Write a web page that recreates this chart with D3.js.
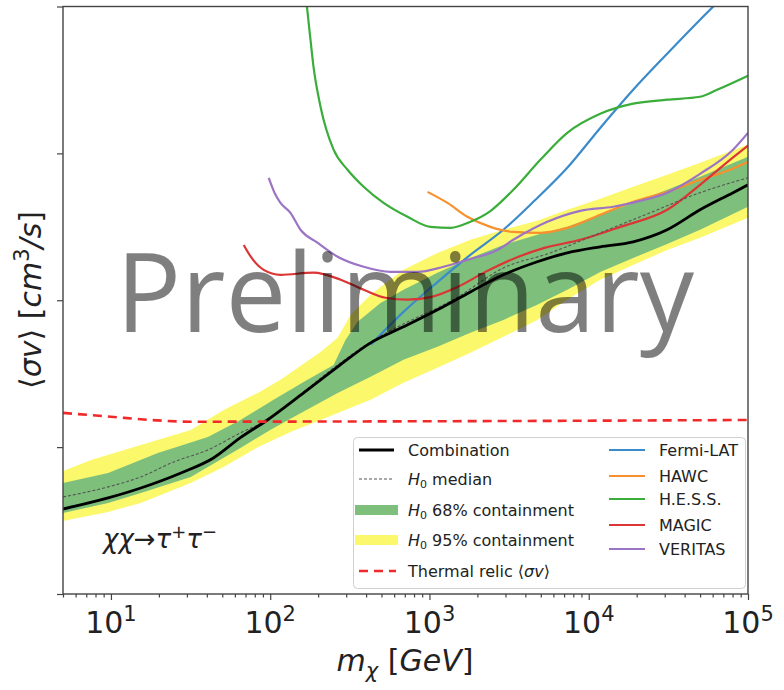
<!DOCTYPE html>
<html><head><meta charset="utf-8">
<script src="https://cdn.jsdelivr.net/npm/d3@7"></script>
<style>body{margin:0;background:#fff} svg{display:block}</style>
</head><body>
<svg id="c" width="784" height="690"></svg>
<script>
// ---- data: [mass GeV, <sigma v> cm^3/s] ----
const combination = [[5,3.79e-27],[9.6,4.51e-27],[15.4,5.27e-27],[27.5,6.67e-27],[44,8.44e-27],[65,1.16e-26],[96,1.53e-26],[162,2.34e-26],[265,3.52e-26],[427,5.13e-26],[687,6.59e-26],[1122,8.61e-26],[1807,1.14e-25],[2910,1.49e-25],[4754,1.83e-25],[7331,2.10e-25],[11810,2.31e-25],[19010,2.50e-25],[31070,3.02e-25],[50020,4.13e-25],[80530,5.40e-25],[1e5,6.11e-25]];
const h0Median = [[5,4.58e-27],[9.6,5.36e-27],[15.4,6.27e-27],[24.8,7.93e-27],[40.6,9.57e-27],[65,1.25e-26],[96,1.53e-26],[162,2.38e-26],[265,3.63e-26],[427,5.21e-26],[687,6.90e-26],[1122,8.87e-26],[1498,1.05e-25],[2910,1.66e-25],[5737,2.10e-25],[11810,2.88e-25],[24300,3.94e-25],[50020,5.40e-25],[1e5,6.82e-25]];
const band68Upper = [[5,5.70e-27],[9.6,6.67e-27],[19.7,9.12e-27],[40.6,1.17e-26],[65,1.53e-26],[105,2.10e-26],[162,2.78e-26],[250,3.63e-26],[297,5.37e-26],[354,7.13e-26],[493,9.59e-26],[687,1.18e-25],[1122,1.54e-25],[1807,1.94e-25],[2910,2.38e-25],[4754,2.79e-25],[7331,3.16e-25],[11810,3.82e-25],[19010,4.60e-25],[31070,5.65e-25],[50020,6.93e-25],[1e5,9.48e-25]];
const band68Lower = [[5,3.56e-27],[9.6,4.17e-27],[15.4,4.88e-27],[31.7,6.27e-27],[65,9.88e-27],[100,1.31e-26],[134,1.56e-26],[265,2.34e-26],[427,3.01e-26],[687,3.93e-26],[1122,4.82e-26],[1807,6.00e-26],[2910,7.35e-26],[4754,9.31e-26],[7331,1.18e-25],[11810,1.56e-25],[19010,1.94e-25],[31070,2.42e-25],[50020,3.02e-25],[1e5,4.33e-25]];
const band95Upper = [[5,6.88e-27],[7.5,8.18e-27],[15.4,1.035e-26],[31.7,1.31e-26],[51,1.79e-26],[83.5,2.34e-26],[116,2.87e-26],[207,4.45e-26],[265,5.55e-26],[320,7.96e-26],[427,1.09e-25],[687,1.61e-25],[1122,2.10e-25],[1807,2.58e-25],[2910,3.02e-25],[4754,3.48e-25],[7331,4.13e-25],[11810,4.91e-25],[19010,5.92e-25],[31070,7.15e-25],[50020,8.63e-25],[1e5,1.15e-24]];
const band95Lower = [[5,3.14e-27],[9.6,3.62e-27],[15.4,4.17e-27],[31.7,5.70e-27],[51,7.33e-27],[83.5,1.00e-26],[134,1.27e-26],[207,1.53e-26],[427,2.10e-26],[687,2.74e-26],[1122,3.47e-26],[1807,4.39e-26],[2910,5.64e-26],[4754,7.35e-26],[7331,1.01e-25],[11810,1.38e-25],[19010,1.74e-25],[31070,2.20e-25],[50020,2.66e-25],[1e5,3.64e-25]];
const thermalRelic = [[5,1.71e-26],[10,1.61e-26],[17.8,1.53e-26],[31.7,1.49e-26],[1015,1.50e-26],[1e5,1.53e-26]];
const fermiLAT = [[427,4.97e-26],[687,8.34e-26],[1122,1.33e-25],[1807,2.04e-25],[2910,3.02e-25],[4487,4.68e-25],[7331,7.98e-25],[11810,1.49e-24],[19010,2.71e-24],[31070,4.77e-24],[50020,8.13e-24],[71760,1.2e-23]];
const hawc = [[972,5.47e-25],[1297,4.60e-25],[1730,3.70e-25],[2412,3.16e-25],[3362,2.92e-25],[4965,2.88e-25],[7331,3.11e-25],[11810,3.82e-25],[19010,4.68e-25],[31070,5.47e-25],[50020,6.61e-25],[77120,7.73e-25],[1e5,8.77e-25]];
const hess = [[167,1.2e-23],[179,5.94e-24],[187,3.89e-24],[207,2.08e-24],[250,1.06e-24],[306,7.73e-25],[386,5.92e-25],[515,4.60e-25],[728,3.70e-25],[1015,3.16e-25],[1354,3.11e-25],[1807,3.42e-25],[2412,4.05e-25],[3362,5.65e-25],[4965,9.04e-25],[7331,1.38e-24],[11810,1.86e-24],[19010,2.18e-24],[31070,2.32e-24],[50020,2.43e-24],[63920,2.71e-24],[1e5,3.38e-24]];
const magic = [[68.2,2.38e-25],[75.5,1.98e-25],[91,1.61e-25],[116,1.49e-25],[187,1.54e-25],[277,1.38e-25],[386,1.18e-25],[530,1.04e-25],[728,1.01e-25],[1015,1.05e-25],[1498,1.23e-25],[2244,1.56e-25],[3461,1.94e-25],[5338,2.28e-25],[8846,2.58e-25],[15760,3.16e-25],[31070,4.13e-25],[50020,6.11e-25],[77120,9.04e-25],[1e5,1.13e-24]];
const veritas = [[97.9,6.82e-25],[108,5.22e-25],[116,4.60e-25],[134,3.94e-25],[155,3.02e-25],[199,2.46e-25],[265,1.98e-25],[386,1.69e-25],[569,1.56e-25],[841,1.56e-25],[1224,1.69e-25],[1807,1.91e-25],[2669,2.20e-25],[3362,2.58e-25],[5494,3.42e-25],[8846,4.06e-25],[14240,4.33e-25],[21030,4.75e-25],[31070,5.40e-25],[50020,7.26e-25],[80530,1.06e-24],[1e5,1.38e-24]];
const xMajorTicks = [10,100,1000,1e4,1e5];
const xTickExponents = ["1","2","3","4","5"];
const yMajorTicks = [1e-27,1e-26,1e-25,1e-24,1e-23];
const experimentNames = ["Fermi-LAT","HAWC","H.E.S.S.","MAGIC","VERITAS"];
const experimentColors = ["#3b8bcb","#f8902e","#3aad3a","#dc3535","#9b74c4"];
const experimentData = [fermiLAT, hawc, hess, magic, veritas];

// ---- layout ----
const svg = d3.select("#c");
const L=63, T=6.5, R=748, B=594;
const x = d3.scaleLog().domain([5,1e5]).range([L,R]);
const y = d3.scaleLog().domain([1e-27,1e-23]).range([B,T]);
const FONT = "'DejaVu Sans', sans-serif";

svg.append("defs").append("clipPath").attr("id","clip")
  .append("rect").attr("x",L).attr("y",T).attr("width",R-L).attr("height",B-T);

const plot = svg.append("g").attr("clip-path","url(#clip)");
const line = d3.line().x(d=>x(d[0])).y(d=>y(d[1])).curve(d3.curveMonotoneX);
const poly = d3.line().x(d=>x(d[0])).y(d=>y(d[1]));

function band(up, lo){ return poly(up.concat(lo.slice().reverse())) + "Z"; }

plot.append("path").attr("d", band(band95Upper, band95Lower)).attr("fill","#fcf86c");
plot.append("path").attr("d", band(band68Upper, band68Lower)).attr("fill","#7dbf7b");

experimentData.forEach((d,i)=>{
  plot.append("path").attr("d", line(d)).attr("fill","none")
    .attr("stroke", experimentColors[i]).attr("stroke-width",2.2);
});
plot.append("path").attr("d", line(h0Median)).attr("fill","none")
  .attr("stroke","#555").attr("stroke-width",1.1).attr("stroke-dasharray","3,2");
plot.append("path").attr("d", line(combination)).attr("fill","none")
  .attr("stroke","#000").attr("stroke-width",2.8);
plot.append("path").attr("d", line(thermalRelic)).attr("fill","none")
  .attr("stroke","#f02a2a").attr("stroke-width",2.6).attr("stroke-dasharray","9,6");

// watermark
svg.append("text").attr("x",405).attr("y",332).attr("text-anchor","middle")
  .attr("font-family","'Open Sans', sans-serif").attr("font-size",110)
  .attr("textLength",578).attr("lengthAdjust","spacingAndGlyphs")
  .attr("fill","#000").attr("fill-opacity",0.5).text("Preliminary");

// process label
const proc = svg.append("text").attr("x",103).attr("y",548)
  .attr("font-family",FONT).attr("font-size",26).attr("fill","#222");
proc.append("tspan").attr("font-style","italic").text("χχ");
proc.append("tspan").text("→");
proc.append("tspan").attr("font-style","italic").text("τ");
proc.append("tspan").attr("font-size",18).attr("dy",-10).text("+");
proc.append("tspan").attr("font-style","italic").attr("dy",10).text("τ");
proc.append("tspan").attr("font-size",18).attr("dy",-10).text("−");

// axes ticks
const minors=[];
for(let e=0;e<5;e++) for(let k=2;k<10;k++){ const v=k*Math.pow(10,e); if(v>=5&&v<1e5&&v!==10) minors.push(v); }
const ax = svg.append("g").attr("transform",`translate(0,${B})`);
ax.call(d3.axisBottom(x).tickValues(minors).tickSize(3.5).tickFormat(""));
ax.call(g=>g.select(".domain").remove());
const axM = svg.append("g").attr("transform",`translate(0,${B})`);
axM.call(d3.axisBottom(x).tickValues(xMajorTicks).tickSize(6).tickFormat(""));
axM.call(g=>g.select(".domain").remove());
const ay = svg.append("g").attr("transform",`translate(${L},0)`);
ay.call(d3.axisLeft(y).tickValues(yMajorTicks).tickSize(6).tickFormat(""));
ay.call(g=>g.select(".domain").remove());
svg.selectAll(".tick line").attr("stroke","#444").attr("stroke-width",1.2);

xMajorTicks.forEach((v,i)=>{
  const t = svg.append("text").attr("x",x(v)).attr("y",633).attr("text-anchor","middle")
    .attr("font-family",FONT).attr("font-size",30).attr("fill","#222");
  t.append("tspan").text("10");
  t.append("tspan").attr("font-size",21).attr("dy",-12).text(xTickExponents[i]);
});

// frame
svg.append("rect").attr("x",L).attr("y",T).attr("width",R-L).attr("height",B-T)
  .attr("fill","none").attr("stroke","#444").attr("stroke-width",1.4);

// axis labels
const xl = svg.append("text").attr("x",405).attr("y",671).attr("text-anchor","middle")
  .attr("font-family",FONT).attr("font-size",30).attr("fill","#222");
xl.append("tspan").attr("font-style","italic").text("m");
xl.append("tspan").attr("font-style","italic").attr("font-size",21).attr("dy",7).text("χ");
xl.append("tspan").attr("dy",-7).text(" [");
xl.append("tspan").attr("font-style","italic").text("GeV");
xl.append("tspan").text("]");

const yl = svg.append("text").attr("transform","translate(41,300) rotate(-90)").attr("text-anchor","middle")
  .attr("font-family",FONT).attr("font-size",30).attr("fill","#222");
yl.append("tspan").text("⟨");
yl.append("tspan").attr("font-style","italic").text("σv");
yl.append("tspan").text("⟩ [");
yl.append("tspan").attr("font-style","italic").text("cm");
yl.append("tspan").attr("font-size",21).attr("dy",-12).text("3");
yl.append("tspan").attr("font-style","italic").attr("dy",12).text("/s");
yl.append("tspan").text("]");

// legend
const lg = svg.append("g");
lg.append("rect").attr("x",353.5).attr("y",437.5).attr("width",392).attr("height",151).attr("rx",4)
  .attr("fill","#fff").attr("fill-opacity",0.85).attr("stroke","#d0d0d0").attr("stroke-width",1);
function ltext(xx,yy){ return lg.append("text").attr("x",xx).attr("y",yy+5.5).attr("font-family",FONT).attr("font-size",16).attr("fill","#222"); }
const leftY=[450,479,510,540,571];
lg.append("line").attr("x1",359).attr("x2",394).attr("y1",leftY[0]).attr("y2",leftY[0]).attr("stroke","#000").attr("stroke-width",2.8);
ltext(408,leftY[0]).text("Combination");
lg.append("line").attr("x1",359).attr("x2",394).attr("y1",leftY[1]).attr("y2",leftY[1]).attr("stroke","#555").attr("stroke-width",1.1).attr("stroke-dasharray","3,2");
let t1=ltext(408,leftY[1]); t1.append("tspan").attr("font-style","italic").text("H"); t1.append("tspan").attr("font-size",11).attr("dy",3).text("0"); t1.append("tspan").attr("dy",-3).text(" median");
lg.append("rect").attr("x",355).attr("y",leftY[2]-5).attr("width",43).attr("height",10).attr("fill","#7dbf7b");
let t2=ltext(408,leftY[2]); t2.append("tspan").attr("font-style","italic").text("H"); t2.append("tspan").attr("font-size",11).attr("dy",3).text("0"); t2.append("tspan").attr("dy",-3).text(" 68% containment");
lg.append("rect").attr("x",355).attr("y",leftY[3]-5).attr("width",43).attr("height",10).attr("fill","#fcf86c");
let t3=ltext(408,leftY[3]); t3.append("tspan").attr("font-style","italic").text("H"); t3.append("tspan").attr("font-size",11).attr("dy",3).text("0"); t3.append("tspan").attr("dy",-3).text(" 95% containment");
lg.append("line").attr("x1",359).attr("x2",396).attr("y1",leftY[4]).attr("y2",leftY[4]).attr("stroke","#f02a2a").attr("stroke-width",2.6).attr("stroke-dasharray","9,6");
let t4=ltext(408,leftY[4]); t4.append("tspan").text("Thermal relic ⟨"); t4.append("tspan").attr("font-style","italic").text("σv"); t4.append("tspan").text("⟩");
const rightY=[450,476,499,525,549];
experimentNames.forEach((n,i)=>{
  lg.append("line").attr("x1",609).attr("x2",645).attr("y1",rightY[i]).attr("y2",rightY[i]).attr("stroke",experimentColors[i]).attr("stroke-width",2.2);
  ltext(659,rightY[i]).text(n);
});
</script>
</body></html>
